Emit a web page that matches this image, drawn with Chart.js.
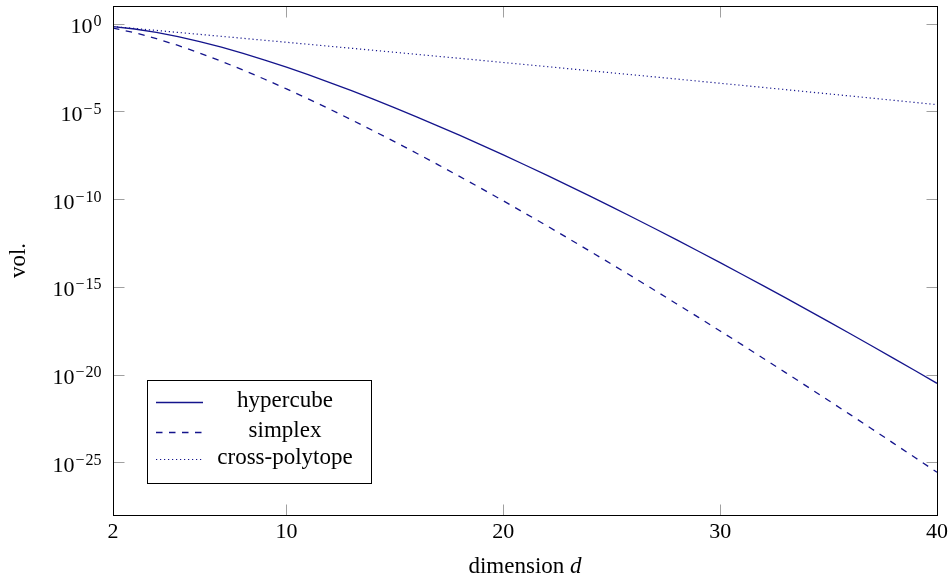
<!DOCTYPE html>
<html>
<head>
<meta charset="utf-8">
<script src="https://cdn.jsdelivr.net/npm/chart.js@4.4.0/dist/chart.umd.min.js"></script>
<style>
  html, body { margin: 0; padding: 0; background: #fff; }
  canvas { display: block; }
</style>
</head>
<body>
<canvas id="volChart" width="952" height="578"></canvas>
<script>
// values (log y axis)
const dims = [2, 3, 4, 5, 6, 7, 8, 9, 10, 11, 12, 13, 14, 15, 16, 17, 18, 19, 20, 21,
  22, 23, 24, 25, 26, 27, 28, 29, 30, 31, 32, 33, 34, 35, 36, 37, 38, 39, 40];

const hypercube = [6.76e-1, 4.90e-1, 3.18e-1, 1.82e-1, 9.44e-2, 4.49e-2, 1.99e-2, 8.28e-3,
  3.26e-3, 1.22e-3, 4.37e-4, 1.50e-4, 4.94e-5, 1.58e-5, 4.85e-6, 1.45e-6, 4.21e-7, 1.19e-7,
  3.26e-8, 8.73e-9, 2.29e-9, 5.85e-10, 1.46e-10, 3.58e-11, 8.61e-12, 2.03e-12, 4.70e-13,
  1.07e-13, 2.38e-14, 5.24e-15, 1.13e-15, 2.41e-16, 5.05e-17, 1.04e-17, 2.12e-18, 4.26e-19,
  8.43e-20, 1.65e-20, 3.18e-21];

const simplex = [5.55e-1, 3.01e-1, 1.39e-1, 5.65e-2, 2.08e-2, 7.08e-3, 2.24e-3, 6.70e-4,
  1.89e-4, 5.12e-5, 1.32e-5, 3.28e-6, 7.85e-7, 1.82e-7, 4.08e-8, 8.93e-9, 1.89e-9, 3.92e-10,
  7.93e-11, 1.56e-11, 3.03e-12, 5.74e-13, 1.06e-13, 1.94e-14, 3.48e-15, 6.14e-16, 1.06e-16,
  1.82e-17, 3.05e-18, 5.07e-19, 8.28e-20, 1.34e-20, 2.13e-21, 3.35e-22, 5.21e-23, 8.00e-24,
  1.21e-24, 1.82e-25, 2.72e-26];

const crossPolytope = [6.76e-1, 5.24e-1, 4.06e-1, 3.13e-1, 2.42e-1, 1.87e-1, 1.44e-1, 1.11e-1,
  8.57e-2, 6.61e-2, 5.07e-2, 3.90e-2, 3.00e-2, 2.30e-2, 1.76e-2, 1.35e-2, 1.04e-2, 7.93e-3,
  6.05e-3, 4.62e-3, 3.53e-3, 2.69e-3, 2.05e-3, 1.56e-3, 1.19e-3, 9.06e-4, 6.89e-4, 5.22e-4,
  3.96e-4, 3.01e-4, 2.28e-4, 1.73e-4, 1.30e-4, 9.86e-5, 7.45e-5, 5.62e-5, 4.24e-5, 3.19e-5,
  2.40e-5];

const xTicks = [2, 10, 20, 30, 40];
const yTickValues = [1e0, 1e-5, 1e-10, 1e-15, 1e-20, 1e-25];
const yTickExponents = ['0', '−5', '−10', '−15', '−20', '−25'];

const serif = "'Liberation Serif', 'Times New Roman', serif";
const lineColor = 'rgb(20, 20, 140)';

function toPoints(values) {
  return dims.map((d, i) => ({ x: d, y: values[i] }));
}

// frame, inner ticks, y labels with exponents, axis titles and the legend box
const framePlugin = {
  id: 'frame',
  afterDatasetsDraw(chart) {
    const ctx = chart.ctx;
    const a = chart.chartArea;
    const xs = chart.scales.x;
    const ys = chart.scales.y;
    const left = Math.round(a.left) + 0.5;
    const right = Math.round(a.right) + 0.5;
    const top = Math.round(a.top) + 0.5;
    const bottom = Math.round(a.bottom) + 0.5;

    ctx.save();
    ctx.lineWidth = 1;
    ctx.strokeStyle = '#a0a0a0';
    ctx.beginPath();
    xTicks.forEach(v => {
      const px = Math.round(xs.getPixelForValue(v)) + 0.5;
      ctx.moveTo(px, bottom); ctx.lineTo(px, bottom - 11);
      ctx.moveTo(px, top); ctx.lineTo(px, top + 11);
    });
    yTickValues.forEach(v => {
      const py = Math.round(ys.getPixelForValue(v)) + 0.5;
      ctx.moveTo(left, py); ctx.lineTo(left + 11, py);
      ctx.moveTo(right, py); ctx.lineTo(right - 11, py);
    });
    ctx.stroke();

    ctx.strokeStyle = '#000';
    ctx.strokeRect(left, top, right - left, bottom - top);

    // y tick labels: 10 with a raised exponent
    ctx.fillStyle = '#000';
    ctx.textAlign = 'left';
    ctx.textBaseline = 'alphabetic';
    yTickValues.forEach((v, i) => {
      const py = ys.getPixelForValue(v);
      const exp = yTickExponents[i];
      const neg = exp.startsWith('−');
      const digits = neg ? exp.slice(1) : exp;
      ctx.font = `22px ${serif}`;
      const wBase = ctx.measureText('10').width;
      ctx.font = `16px ${serif}`;
      const wMinus = neg ? ctx.measureText('−').width + 1 : 0;
      const wDigits = ctx.measureText(digits).width;
      let x = 101.5 - wBase - 1 - wMinus - wDigits;
      ctx.font = `22px ${serif}`;
      ctx.fillText('10', x, py + 9.5);
      x += wBase + 1;
      ctx.font = `16px ${serif}`;
      if (neg) {
        ctx.fillText('−', x, py + 2.5);
        x += wMinus;
      }
      ctx.fillText(digits, x, py + 2.5);
    });

    // y title
    ctx.save();
    ctx.translate(25, (a.top + a.bottom) / 2);
    ctx.rotate(-Math.PI / 2);
    ctx.textAlign = 'center';
    ctx.font = `23px ${serif}`;
    ctx.fillText('vol.', 0, 0);
    ctx.restore();

    // x title with italic d
    ctx.font = `23px ${serif}`;
    const wWord = ctx.measureText('dimension ').width;
    ctx.font = `italic 23px ${serif}`;
    const wD = ctx.measureText('d').width;
    const tx = (a.left + a.right) / 2 - (wWord + wD) / 2;
    ctx.font = `23px ${serif}`;
    ctx.fillText('dimension ', tx, 573);
    ctx.font = `italic 23px ${serif}`;
    ctx.fillText('d', tx + wWord, 573);

    // legend
    ctx.fillStyle = '#fff';
    ctx.fillRect(147.5, 380.5, 224, 103);
    ctx.strokeStyle = '#000';
    ctx.strokeRect(147.5, 380.5, 224, 103);
    const rows = [402, 432, 459];
    chart.data.datasets.forEach((ds, i) => {
      const ry = rows[i] + 0.5;
      ctx.strokeStyle = ds.borderColor;
      ctx.lineWidth = ds.borderWidth;
      ctx.setLineDash(ds.borderDash || []);
      ctx.beginPath();
      ctx.moveTo(156, ry);
      ctx.lineTo(203, ry);
      ctx.stroke();
      ctx.setLineDash([]);
      ctx.fillStyle = '#000';
      ctx.textAlign = 'center';
      ctx.font = `23px ${serif}`;
      ctx.fillText(ds.label, 285, rows[i] + 5);
    });
    ctx.restore();
  }
};

const ctx = document.getElementById('volChart').getContext('2d');

const volChart = new Chart(ctx, {
  type: 'line',
  data: {
    datasets: [
      {
        label: 'hypercube',
        data: toPoints(hypercube),
        borderColor: lineColor,
        borderWidth: 1.3,
        pointRadius: 0,
        tension: 0,
      },
      {
        label: 'simplex',
        data: toPoints(simplex),
        borderColor: lineColor,
        borderWidth: 1.3,
        borderDash: [6.5, 6.5],
        pointRadius: 0,
        tension: 0,
      },
      {
        label: 'cross-polytope',
        data: toPoints(crossPolytope),
        borderColor: lineColor,
        borderWidth: 1.2,
        borderDash: [1.2, 2.8],
        pointRadius: 0,
        tension: 0,
      },
    ],
  },
  options: {
    responsive: false,
    animation: false,
    devicePixelRatio: 1,
    layout: { padding: { top: 6, right: 13, left: 0, bottom: 0 } },
    plugins: {
      legend: { display: false },
      tooltip: { enabled: false },
    },
    scales: {
      x: {
        type: 'linear',
        min: 2,
        max: 40,
        afterBuildTicks: scale => { scale.ticks = xTicks.map(v => ({ value: v })); },
        afterFit: scale => { scale.height = 63; },
        grid: { display: false, drawTicks: false },
        border: { display: false },
        ticks: {
          autoSkip: false,
          maxRotation: 0,
          padding: 4,
          color: '#000',
          font: { family: serif, size: 22 },
        },
      },
      y: {
        type: 'logarithmic',
        min: 1e-28,
        max: 10,
        afterBuildTicks: scale => { scale.ticks = yTickValues.map(v => ({ value: v })); },
        afterFit: scale => { scale.width = 113; },
        grid: { display: false, drawTicks: false },
        border: { display: false },
        ticks: { display: false },
      },
    },
  },
  plugins: [framePlugin],
});
</script>
</body>
</html>
